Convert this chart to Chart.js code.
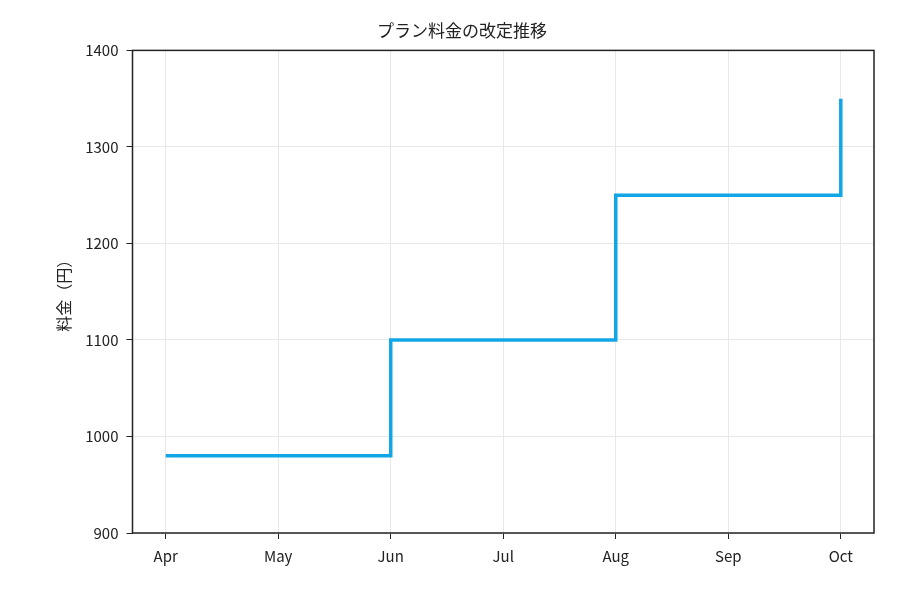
<!DOCTYPE html>
<html lang="ja">
<head>
  <meta charset="UTF-8">
  <title>プラン料金の改定推移</title>
  <script src="https://cdn.jsdelivr.net/npm/chart.js"></script>
  <style>body{margin:0;background:#fff}</style>
</head>
<body>
  <div style="width: 900px; height: 600px;">
    <canvas id="priceChart"></canvas>
  </div>
  <script>
    const months = ['Apr', 'May', 'Jun', 'Jul', 'Aug', 'Sep', 'Oct'];
    const prices = [980, 980, 1100, 1100, 1250, 1250, 1350];
    const yTicks = [900, 1000, 1100, 1200, 1300, 1400];

    const font = "'Noto Sans CJK JP', 'Noto Sans', sans-serif";
    const frame = {
      id: 'frame',
      afterDraw(chart) {
        const a = chart.chartArea, c = chart.ctx;
        c.save();
        c.strokeStyle = '#222';
        c.lineWidth = 1.5;
        c.strokeRect(a.left, a.top, a.right - a.left, a.bottom - a.top);
        c.restore();
      }
    };

    new Chart(document.getElementById('priceChart'), {
      type: 'line',
      data: {
        datasets: [{
          data: prices.map((p, i) => ({ x: i, y: p })),
          borderColor: '#11a6e6',
          borderWidth: 3.5,
          pointRadius: 0,
          stepped: true,
          fill: false
        }]
      },
      options: {
        responsive: true,
        maintainAspectRatio: false,
        devicePixelRatio: 1,
        animation: false,
        layout: { padding: { left: 50, right: 26, top: 20, bottom: 27 } },
        plugins: {
          legend: { display: false },
          title: { display: true, text: 'プラン料金の改定推移', color: '#222', font: { family: font, size: 17, weight: 'normal' }, padding: { top: 0, bottom: 10 } }
        },
        scales: {
          x: {
            type: 'linear', min: -0.295, max: 6.295,
            afterBuildTicks: s => { s.ticks = months.map((m, i) => ({ value: i })); },
            ticks: { callback: v => months[v], color: '#222', font: { family: font, size: 15 }, padding: 8 },
            grid: { color: '#e8e8e8', drawTicks: true, tickLength: 6, tickColor: '#222' },
            border: { display: false }
          },
          y: {
            min: 900, max: 1400,
            afterBuildTicks: s => { s.ticks = yTicks.map(v => ({ value: v })); },
            ticks: { callback: v => String(v), color: '#222', font: { family: font, size: 15 }, padding: 8 },
            grid: { color: '#e8e8e8', tickLength: 6, tickColor: '#222' },
            border: { display: false },
            title: { display: true, text: '料金（円）', color: '#222', font: { family: font, size: 16 } }
          }
        }
      },
      plugins: [frame]
    });
  </script>
</body>
</html>
